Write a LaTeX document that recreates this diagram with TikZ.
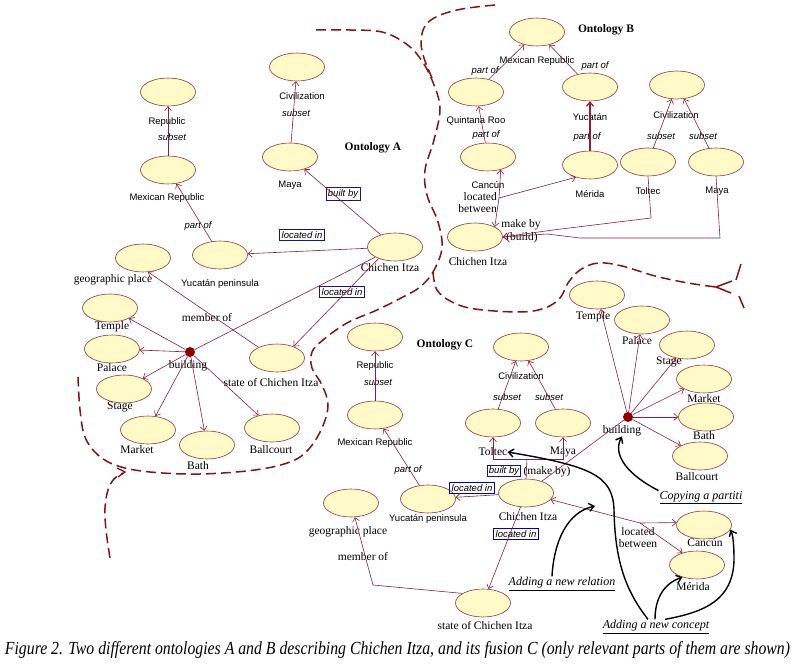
\documentclass[tikz,border=0pt]{standalone}
\usepackage{fontspec}
\usepackage{graphicx}
\setmainfont{Liberation Serif}
\setsansfont{Liberation Sans}
\usetikzlibrary{shapes.geometric,arrows.meta,calc}
\definecolor{conceptFill}{RGB}{255,250,200}
\definecolor{edgeRed}{RGB}{150,50,60}
\definecolor{linkRed}{RGB}{140,30,60}
\definecolor{boxBlue}{RGB}{20,20,140}
\definecolor{dotRed}{RGB}{140,0,0}
\definecolor{boundRed}{RGB}{130,20,20}
\begin{document}
\begin{tikzpicture}[x=1pt,y=-1pt,
  concept/.style={ellipse, draw=edgeRed, fill=conceptFill, minimum width=55pt, minimum height=28pt, inner sep=0pt, line width=0.6pt},
  slbl/.style={font=\sffamily\fontsize{9.5}{11}\selectfont, inner sep=0pt},
  rlbl/.style={font=\fontsize{11.5}{12}\selectfont, inner sep=0pt},
  rel/.style={font=\sffamily\itshape\fontsize{9.5}{11}\selectfont, inner sep=0pt},
  relbox/.style={draw=boxBlue, font=\sffamily\itshape\fontsize{9.5}{11}\selectfont, inner sep=2pt, line width=0.7pt},
  ttl/.style={font=\bfseries\fontsize{11.5}{13}\selectfont, inner sep=0pt},
  link/.style={draw=linkRed, line width=0.6pt},
  arr/.style={link, -{Straight Barb[length=4pt,width=7pt]}},
  bdot/.style={circle, fill=dotRed, minimum size=10pt, inner sep=0pt},
  bound/.style={draw=boundRed, line width=1.5pt, dash pattern=on 10pt off 5pt},
  note/.style={font=\itshape\fontsize{12}{14}\selectfont, inner sep=1pt},
  notearr/.style={draw=black, line width=1.4pt, -{Straight Barb[length=5pt,width=8pt]}}
]
\useasboundingbox (0,0) rectangle (795,668);
\fill[white] (0,0) rectangle (795,668);

% ---------------- boundaries ----------------
\draw[bound] plot[smooth, tension=0.6] coordinates {(316,30) (350,30) (382,32) (405,43) (420,58) (432,80) (440,108) (434,140) (425,170) (427,195) (438,222) (442,248) (433,272) (420,287) (403,297) (377,310) (347,323) (323,340) (312,352) (312,368) (322,385) (328,405) (322,428) (308,450) (290,462) (255,470) (200,474) (150,472) (118,466) (98,455) (85,437) (80,410) (78,377)};
\draw[bound] plot[smooth, tension=0.6] coordinates {(495,5) (462,9) (438,16) (425,26) (421,42) (424,58) (432,78)};
\draw[bound] plot[smooth, tension=0.6] coordinates {(433,272) (437,290) (452,302) (475,309) (520,312) (545,308) (560,298) (568,283) (580,270) (598,263) (622,266) (655,276) (688,283) (716,287)};
\draw[boundRed, line width=1.5pt] (732,281) -- (716,287) -- (731,293);
\draw[boundRed, line width=1.5pt] (741,264) -- (736,280);
\draw[boundRed, line width=1.5pt] (739,296) -- (744,308);
\draw[bound] plot[smooth, tension=0.6] coordinates {(110,558) (106,530) (105,508) (108,490) (114,479) (123,473)};
\draw[boundRed, line width=1.3pt] (117,468) -- (125,472) -- (118,477);

% ---------------- Ontology A ----------------
\node[concept] (repA) at (168,92) {};
\node[slbl] (repAl) at (167,122) {Republic};
\node[rel] (repAs) at (172,137) {subset};
\node[concept] (mexA) at (168,170) {};
\node[slbl] (mexAl) at (167,198) {Mexican Republic};
\node[rel] (mexAp) at (198,226) {part of};
\node[concept] (yucA) at (220,255) {};
\node[slbl] (yucAl) at (220,284) {Yucatán peninsula};
\node[concept] (civA) at (297,67) {};
\node[slbl] (civAl) at (302,96) {Civilization};
\node[rel] (civAs) at (296,113) {subset};
\node[concept] (mayaA) at (290,157) {};
\node[slbl] (mayaAl) at (290,185) {Maya};
\node[ttl] (ontA) at (373,148) {Ontology A};
\node[concept] (chiA) at (395,247) {};
\node[rlbl] (chiAl) at (390,268) {Chichen Itza};
\node[relbox] (builtA) at (343,194) {built by};
\node[relbox] (locA1) at (302,235) {located in};
\node[relbox] (locA2) at (342,292) {located in};
\node[concept] (geoA) at (143,258) {};
\node[rlbl] (geoAl) at (113,280) {geographic place};
\node[concept] (templeA) at (110,308) {};
\node[rlbl] (templeAl) at (112,327) {Temple};
\node[concept] (palaceA) at (112,349) {};
\node[rlbl] (palaceAl) at (112,368) {Palace};
\node[concept] (stageA) at (124,389) {};
\node[rlbl] (stageAl) at (120,407) {Stage};
\node[concept] (marketA) at (148,430) {};
\node[rlbl] (marketAl) at (137,450) {Market};
\node[concept] (bathA) at (207,445) {};
\node[rlbl] (bathAl) at (198,466) {Bath};
\node[concept] (ballA) at (272,428) {};
\node[rlbl] (ballAl) at (271,450) {Ballcourt};
\node[bdot] (bldA) at (190,352) {};
\node[rlbl] (bldAl) at (188,366) {building};
\node[concept] (stateA) at (277,358) {};
\node[rlbl] (stateAl) at (271,383) {state of Chichen Itza};
\node[rlbl] (memA) at (207,318) {member of};

\draw[arr] (mexA.north) -- (repA.south);
\draw[arr] (yucA) -- (mexA);
\draw[arr] (mayaA) -- (civA);
\draw[arr] (chiA) -- (mayaA);
\draw[arr] (chiA) -- (yucA);
\draw[link] (bldA) -- (chiA);
\draw[arr] (chiA.215) -- (stateA.35);
\draw[arr] (stateA.150) -- (geoA.-70);
\foreach \t in {templeA,palaceA,stageA,marketA,bathA,ballA} \draw[arr] (bldA) -- (\t);

% ---------------- Ontology B ----------------
\node[concept] (mexB) at (537,32) {};
\node[slbl] (mexBl) at (537,61) {Mexican Republic};
\node[ttl] (ontB) at (606,30) {Ontology B};
\node[concept] (quinB) at (476,92) {};
\node[slbl] (quinBl) at (476,121) {Quintana Roo};
\node[rel] (quinBp) at (485,71) {part of};
\node[concept] (yucB) at (590,87) {};
\node[slbl] (yucBl) at (590,117) {Yucatán};
\node[rel] (yucBp) at (595,66) {part of};
\node[concept] (cancB) at (488,157) {};
\node[slbl] (cancBl) at (488,185) {Cancún};
\node[rel] (cancBp) at (486,135) {part of};
\node[concept] (merB) at (590,165) {};
\node[slbl] (merBl) at (590,194) {Mérida};
\node[rel] (merBp) at (587,137) {part of};
\node[concept] (civB) at (677,85) {};
\node[slbl] (civBl) at (676,115) {Civilization};
\node[concept] (tolB) at (648,162) {};
\node[slbl] (tolBl) at (648,191) {Toltec};
\node[rel] (tolBs) at (661,136) {subset};
\node[concept] (mayaB) at (716,162) {};
\node[slbl] (mayaBl) at (717,191) {Maya};
\node[rel] (mayaBs) at (703,136) {subset};
\node[concept] (chiB) at (475,237) {};
\node[rlbl] (chiBl) at (478,262) {Chichen Itza};
\node[rlbl, align=right, anchor=east] (betB) at (497,203) {located\\between};
\node[rlbl] (makeB) at (521,225) {make by};
\node[rlbl] (buildB) at (522,238) {(build)};

\draw[arr] (quinB) -- (mexB);
\draw[arr] (yucB) -- (mexB);
\draw[arr] (cancB) -- (quinB);
\draw[link, line width=1.3pt, -{Straight Barb[length=4pt,width=7pt]}] (merB.north) -- (yucB.south);
\draw[arr] (tolB) -- (civB);
\draw[arr] (mayaB) -- (civB);
\coordinate (jB) at (499,198);
\draw[arr] (jB) -- (cancB.-45);
\draw[arr] (jB) -- (chiB.27);
\draw[arr] (jB) -- (merB.221);
\draw[arr] (tolB.south) -- (651,218) -- (553,230) -- (chiB.east);
\draw[arr] (mayaB.south) -- (720,238) -- (580,238) -- (547,234) -- (chiB.east);

% ---------------- Ontology C ----------------
\node[concept] (repC) at (375,337) {};
\node[slbl] (repCl) at (375,366) {Republic};
\node[rel] (repCs) at (378,382) {subset};
\node[ttl] (ontC) at (445,345) {Ontology C};
\node[concept] (mexC) at (375,415) {};
\node[slbl] (mexCl) at (375,443) {Mexican Republic};
\node[concept] (civC) at (521,347) {};
\node[slbl] (civCl) at (521,376) {Civilization};
\node[concept] (tolC) at (493,423) {};
\node[rlbl] (tolCl) at (493,452) {Toltec};
\node[rel] (tolCs) at (507,397) {subset};
\node[concept] (mayaC) at (563,423) {};
\node[rlbl] (mayaCl) at (563,452) {Maya};
\node[rel] (mayaCs) at (549,397) {subset};
\node[concept] (chiC) at (526,493) {};
\node[rlbl] (chiCl) at (528,517) {Chichen Itza};
\node[relbox, inner sep=1.2pt] (builtC) at (504,471) {built by};
\node[rlbl] (makeC) at (547,472) {(make by)};
\node[concept] (yucC) at (428,499) {};
\node[slbl] (yucCl) at (428,519) {Yucatán peninsula};
\node[relbox, draw=blue!70!black, line width=1pt] (locC1) at (472,488) {located in};
\node[rel] (yucCp) at (408,470) {part of};
\node[concept] (geoC) at (351,503) {};
\node[rlbl] (geoCl) at (348,532) {geographic place};
\node[rlbl] (memC) at (363,557) {member of};
\node[concept] (stateC) at (483,603) {};
\node[rlbl] (stateCl) at (485,626) {state of Chichen Itza};
\node[relbox, draw=blue!70!black, line width=1pt] (locC2) at (516,534) {located in};
\node[bdot] (bldC) at (628,417) {};
\node[rlbl] (bldCl) at (622,431) {building};
\node[concept] (templeC) at (597,295) {};
\node[rlbl] (templeCl) at (593,317) {Temple};
\node[concept] (palaceC) at (642,320) {};
\node[rlbl] (palaceCl) at (637,341) {Palace};
\node[concept] (stageC) at (687,345) {};
\node[rlbl] (stageCl) at (669,362) {Stage};
\node[concept] (marketC) at (704,379) {};
\node[rlbl] (marketCl) at (704,399) {Market};
\node[concept] (bathC) at (706,417) {};
\node[rlbl] (bathCl) at (704,436) {Bath};
\node[concept] (ballC) at (700,456) {};
\node[rlbl] (ballCl) at (697,477) {Ballcourt};
\node[concept] (cancC) at (704,525) {};
\node[rlbl] (cancCl) at (705,543) {Cancún};
\node[concept] (merC) at (697,565) {};
\node[rlbl] (merCl) at (693,587) {Mérida};
\node[rlbl, align=center] (betC) at (638,538) {located\\between};

\draw[arr] (mexC.north) -- (repC.south);
\draw[arr] (yucC) -- (mexC);
\draw[arr] (tolC) -- (civC);
\draw[arr] (mayaC) -- (civC);
\draw[arr] (chiC) -- (yucC);
\coordinate (jC) at (527,459);
\draw[link] (chiC.north) -- (jC);
\draw[arr] (jC) -| (tolC.south);
\draw[arr] (jC) -| (mayaC.south);
\draw[arr] (stateC.155) -- (373,585) -- (367,563) -- (geoC.-75);
\draw[arr] (chiC) -- (stateC);
\draw[link] (chiC) -- (bldC);
\foreach \t in {templeC,palaceC,stageC,marketC,bathC,ballC} \draw[arr] (bldC) -- (\t);
\coordinate (jC2) at (640,523);
\draw[arr] (jC2) -- (chiC.-15);
\draw[arr] (jC2) -- (cancC.175);
\draw[arr] (jC2) -- (merC.140);
\coordinate (relpt) at (595,506);

% ---------------- annotations ----------------
\node[note] (cpy) at (701,498) {\underline{Copying a partiti}};
\node[note] (newrel) at (562,584) {\underline{Adding a new relation}};
\node[note] (newcon) at (656,627) {\underline{Adding a new concept}};
\draw[notearr] (cpy.north west) .. controls (628,475) and (612,455) .. (bldCl.south);
\draw[notearr] ($(newrel.north)+(-10,0)$) .. controls (554,540) and (568,512) .. (relpt);
\draw[notearr] ($(newcon.north)+(-8,0)$) .. controls (625,590) and (615,560) .. (614,510) .. controls (613,475) and (590,466) .. (tolCl.east);
\draw[notearr] ($(newcon.north)+(-1,0)$) .. controls (655,597) and (665,583) .. (merC.220);
\draw[notearr] ($(newcon.north)+(9,0)$) .. controls (705,612) and (733,600) .. (734,560) .. controls (734,545) and (733,535) .. (cancC.-10);

% ---------------- caption ----------------
\node[inner sep=0pt] (cap) at (397.5,650) {\resizebox{785pt}{13pt}{\itshape Figure 2. Two different ontologies A and B describing Chichen Itza, and its fusion C (only relevant parts of them are shown)}};
\end{tikzpicture}
\end{document}
